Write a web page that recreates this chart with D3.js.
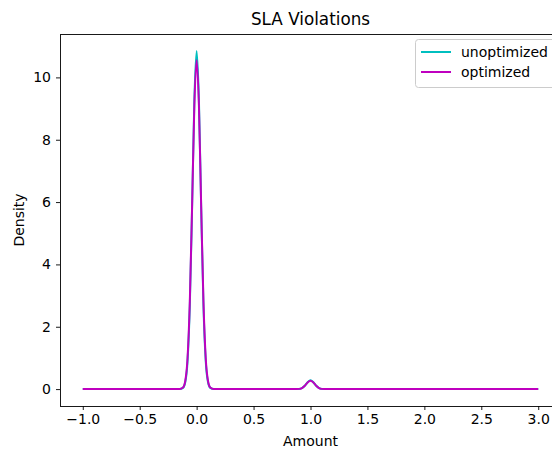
<!DOCTYPE html>
<html>
<head>
<meta charset="utf-8">
<script src="https://cdn.jsdelivr.net/npm/d3@7"></script>
<style>
  html, body { margin: 0; padding: 0; background: #fff; }
  svg { display: block; font-family: "DejaVu Sans", sans-serif; }
</style>
</head>
<body>
<svg id="chart" width="552" height="449"></svg>
<script>
// Density curves of SLA violation amounts (sampled x positions and density values)
const xPoints = [-1.0, -0.5, -0.2, -0.15, -0.12, -0.1, -0.08, -0.06, -0.04, -0.02, 0.0,
  0.02, 0.04, 0.06, 0.08, 0.1, 0.12, 0.15, 0.2, 0.5, 0.85, 0.9, 0.925, 0.95, 0.975, 1.0,
  1.025, 1.05, 1.075, 1.1, 1.15, 1.5, 1.9, 2.0, 2.1, 2.5, 3.0];

const unoptimized = [0, 0, 0, 0.002, 0.04, 0.22, 0.89, 2.66, 5.81, 9.28, 10.85,
  9.28, 5.81, 2.66, 0.89, 0.22, 0.04, 0.002, 0, 0, 0, 0.006, 0.031, 0.106, 0.219, 0.28,
  0.219, 0.106, 0.031, 0.006, 0, 0, 0, 0.003, 0, 0, 0];

const optimized = [0, 0, 0, 0.003, 0.05, 0.26, 0.99, 2.80, 5.85, 9.11, 10.56,
  9.11, 5.85, 2.80, 0.99, 0.26, 0.05, 0.003, 0, 0, 0, 0.007, 0.034, 0.107, 0.214, 0.27,
  0.214, 0.107, 0.034, 0.007, 0, 0, 0, 0.003, 0, 0, 0];

const seriesNames = ["unoptimized", "optimized"];
const seriesColors = ["#00bfbf", "#bf00bf"];
const xTicks = [-1.0, -0.5, 0.0, 0.5, 1.0, 1.5, 2.0, 2.5, 3.0];
const yTicks = [0, 2, 4, 6, 8, 10];

const svg = d3.select("#chart");
const plotLeft = 60, plotRight = 561, plotTop = 34, plotBottom = 406;

const x = d3.scaleLinear().domain([-1.2, 3.2]).range([plotLeft, plotRight]);
const y = d3.scaleLinear().domain([-0.5425, 11.3925]).range([plotBottom, plotTop]);

const fmtMinus = v => (v < 0 ? "\u2212" : "") + Math.abs(v).toFixed(1);

// Axes
const xAxis = svg.append("g")
  .attr("transform", `translate(0,${plotBottom})`)
  .call(d3.axisBottom(x).tickValues(xTicks).tickFormat(fmtMinus).tickSize(4).tickPadding(4));
const yAxis = svg.append("g")
  .attr("transform", `translate(${plotLeft},0)`)
  .call(d3.axisLeft(y).tickValues(yTicks).tickFormat(d3.format("d")).tickSize(4).tickPadding(5));

[xAxis, yAxis].forEach(g => {
  g.select(".domain").remove();
  g.selectAll(".tick line").attr("stroke", "#000").attr("stroke-width", 0.9);
  g.selectAll(".tick text").attr("fill", "#000").style("font-size", "14px")
    .style("font-family", "DejaVu Sans, sans-serif");
});

// Spines
svg.append("rect")
  .attr("x", plotLeft).attr("y", plotTop)
  .attr("width", plotRight - plotLeft).attr("height", plotBottom - plotTop)
  .attr("fill", "none").attr("stroke", "#000").attr("stroke-width", 0.9)
  .attr("shape-rendering", "crispEdges");

// Lines
const line = d3.line().curve(d3.curveMonotoneX);
[unoptimized, optimized].forEach((vals, i) => {
  svg.append("path")
    .datum(xPoints.map((xv, j) => [x(xv), y(vals[j])]))
    .attr("d", line)
    .attr("fill", "none")
    .attr("stroke", seriesColors[i])
    .attr("stroke-width", 2)
    .attr("stroke-linejoin", "round");
});

// Title and axis labels
svg.append("text").attr("x", (plotLeft + plotRight) / 2).attr("y", 25)
  .attr("text-anchor", "middle").style("font-size", "16.8px").text("SLA Violations");
svg.append("text").attr("x", (plotLeft + plotRight) / 2).attr("y", 446)
  .attr("text-anchor", "middle").style("font-size", "14px").text("Amount");
svg.append("text")
  .attr("transform", `translate(24,${(plotTop + plotBottom) / 2}) rotate(-90)`)
  .attr("text-anchor", "middle").style("font-size", "14px").text("Density");

// Legend
const legend = svg.append("g");
legend.append("rect")
  .attr("x", 415.5).attr("y", 39.5).attr("width", 145).attr("height", 48).attr("rx", 3)
  .attr("fill", "#fff").attr("fill-opacity", 0.8)
  .attr("stroke", "#ccc").attr("stroke-width", 1);
seriesNames.forEach((name, i) => {
  const ly = 52 + i * 20;
  legend.append("line")
    .attr("x1", 421).attr("x2", 451).attr("y1", ly).attr("y2", ly)
    .attr("stroke", seriesColors[i]).attr("stroke-width", 2);
  legend.append("text")
    .attr("x", 461).attr("y", ly + 5)
    .style("font-size", "14px").text(name);
});
</script>
</body>
</html>
